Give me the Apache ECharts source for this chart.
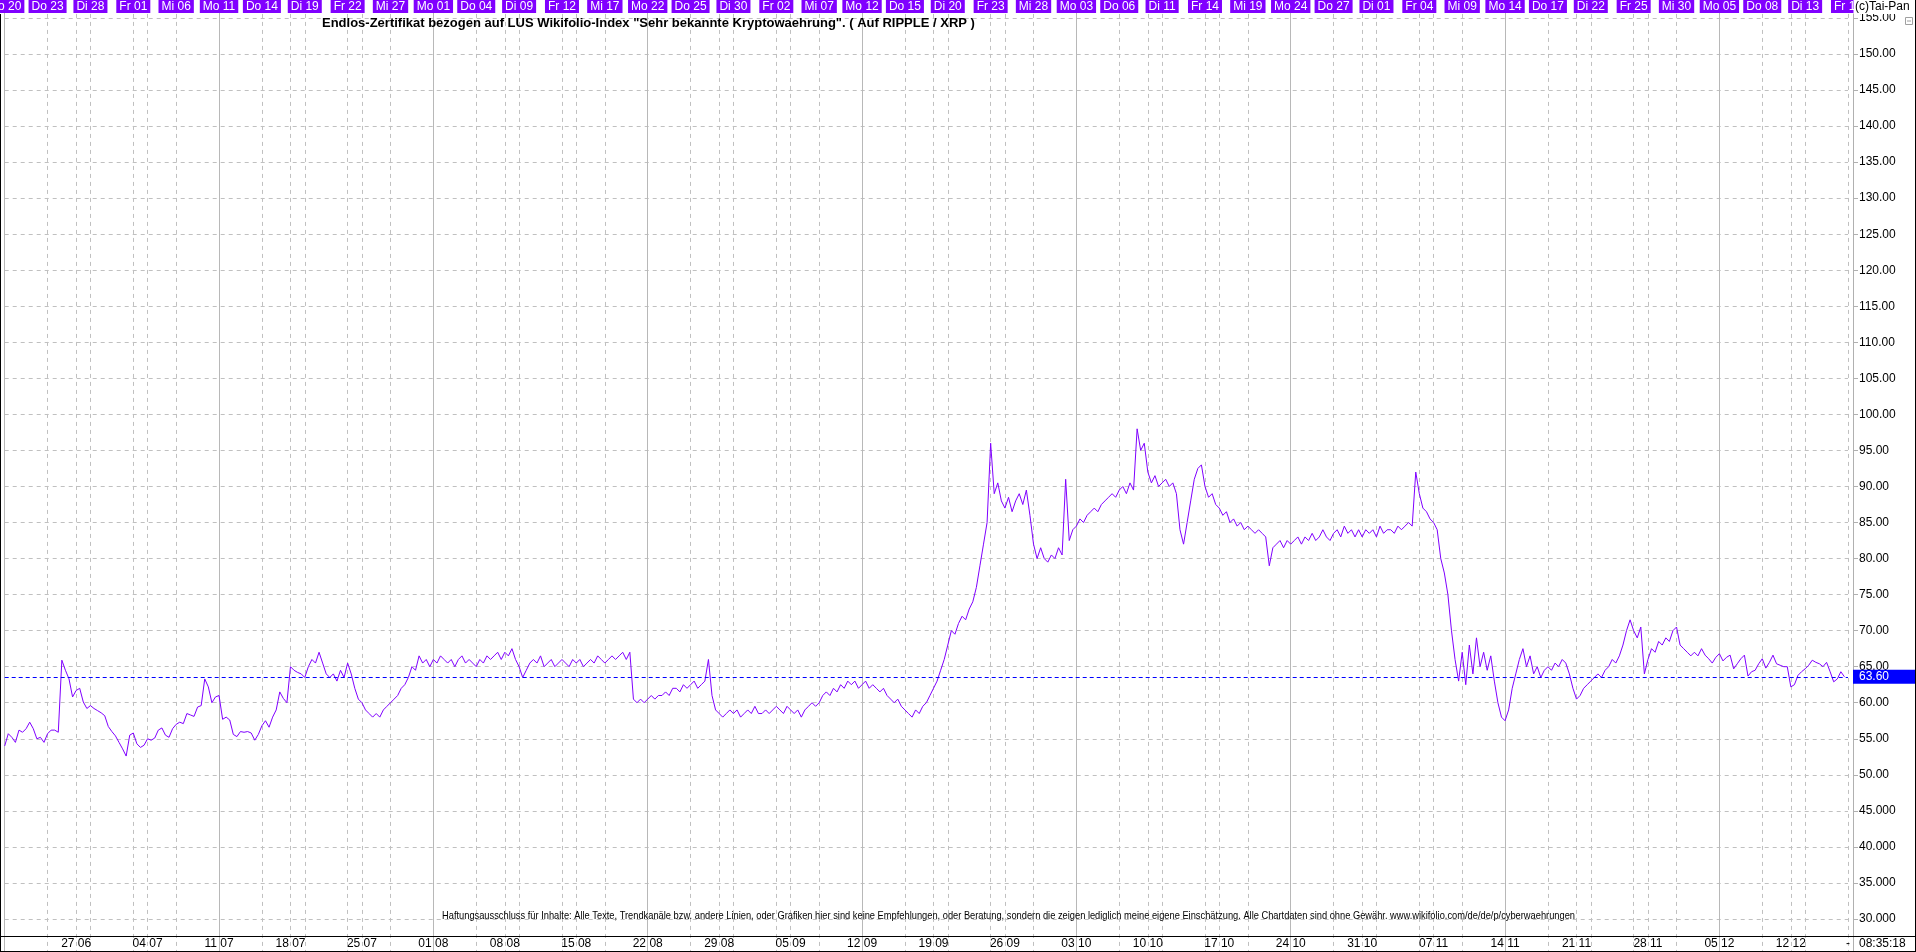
<!DOCTYPE html>
<html><head><meta charset="utf-8">
<script src="https://cdn.jsdelivr.net/npm/echarts@6/dist/echarts.min.js"></script>
<style>html,body{margin:0;padding:0;background:#fff;overflow:hidden}#c{width:1916px;height:952px}</style>
</head><body><div id="c"></div>
<script>
// ---------- data ----------
const titleText = 'Endlos-Zertifikat bezogen auf LUS Wikifolio-Index "Sehr bekannte Kryptowaehrung". ( Auf RIPPLE / XRP )';
const disclaimer = 'Haftungsausschluss für Inhalte: Alle Texte, Trendkanäle bzw. andere Linien, oder Grafiken hier sind keine Empfehlungen, oder Beratung, sondern die zeigen lediglich meine eigene Einschätzung. Alle Chartdaten sind ohne Gewähr. www.wikifolio.com/de/de/p/cyberwaehrungen';
const copyright = '(c)Tai-Pan';
const timeStamp = '08:35:18';
const lastPrice = 63.60;
const year = 2016;
const mondays = ['20.06','27.06','04.07','11.07','18.07','25.07','01.08','08.08','15.08','22.08','29.08','05.09','12.09',
                 '19.09','26.09','03.10','10.10','17.10','24.10','31.10','07.11','14.11','21.11','28.11','05.12','12.12'];
const slotTimes = ['09:00','11:30','14:00','16:30'];
const weekdayNames = ['So','Mo','Di','Mi','Do','Fr','Sa'];
const yTicks = [30,35,40,45,50,55,60,65,70,75,80,85,90,95,100,105,110,115,120,125,130,135,140,145,150,155];

// four readings per trading day, one array per week (Mo..Fr)
const w01 = [54,55.7,55.2,54.5, 56.2,55.9,56.4,57.3, 56.4,55,55.2,54.5, 55.7,56.2,56.2,55.9, 65.9,64.5,63.3,60.8];
const w02 = [61.7,62,60.1,59.2, 59.6,59.2,58.9,58.6, 58.2,56.7,56,55.4, 54.5,53.6,52.6,55.5, 55.8,54.3,53.8,54.1];
const w03 = [55,54.8,55.1,56.2, 56.5,55.5,55.2,56.4, 57,57.3,57.1,58.5, 58.3,58.1,59.4,59.6, 63.3,62.2,60,60.8];
const w04 = [61,57.7,58,57.6, 55.6,55.3,56,55.9, 56,55.8,54.8,55.6, 56.8,57.5,56.6,58, 59,61.5,60.6,60];
const w05 = [65,64.5,64.2,64, 63.5,65,66,65.5, 67,65.5,64,63.5, 64,63,64.5,63.5, 65.5,64,62,60.5];
const w06 = [60,59,58.5,58, 58.5,58,59,59.5, 60,60.5,61,62, 62.5,63.5,65,64.5, 66.5,65.5,66,65];
const w07 = [66,65.5,66.5,66, 65.5,66,65,66, 66.5,65.5,66,65.5, 65,66,65.5,66.5, 66,66.5,67,66];
const w08 = [67,66.5,67.5,66, 65,63.5,64.5,65.5, 66,65.5,66.5,65, 65.5,66,65,65.5, 66,65.5,65,66];
const w09 = [65.5,66,65,65.5, 66,65.5,66.5,66, 65.5,66,66.5,66, 66.5,67,66,67, 60.5,60,60.5,60];
const w10 = [60.5,61,60.5,61, 61,61.5,61,62, 62,61.5,62.5,62, 62.5,63,62,62.5, 63,66,61,59];
const w11 = [58.5,58,58.5,59, 58.5,59,58,58.5, 59,58.5,59.5,58.5, 58.5,59,58.5,59, 59.5,59,58.5,59.5];
const w12 = [59,58.5,59,58, 59,59.5,60,59.5, 60,61,61.5,61, 62,61.5,62.5,62, 63,62.5,63,62];
const w13 = [62.5,63,62,62.5, 62,61.5,62,61, 60.5,60,60.5,59.5, 59,58.5,58,59, 58.5,59.5,60,61];
const w14 = [62,63,64.5,66, 68,70,69.5,71, 72,71.5,73,74, 76,79,82,85, 96,89,90.5,88];
const w15 = [87,88.5,86.5,88, 89,87.5,89.5,86, 82,80,81.5,80, 79.5,80.5,80,81.5, 80.5,91,82.5,84];
const w16 = [84.5,85.5,85,86, 86.5,87,86.5,87.5, 88,88.5,89,88.5, 89.5,90,89,90.5, 89.5,98,95,96];
const w17 = [92,90.5,91.5,90, 90.5,91,90,90.5, 89,84,82,85, 88,91,92.5,93, 90,88.5,89,87.5];
const w18 = [87,86,86.5,85, 85.5,84.5,85,84, 84.5,84,83.5,84, 83.5,83,79,81.5, 82,82.5,81.5,82.5];
const w19 = [82,82.5,83,82, 83,82.5,83.5,82.5, 83,84,83,82.5, 83.5,84,83,84.5, 83.5,84,83,84];
const w20 = [83,84,83.5,84, 83,84.5,83.5,84, 84,83.5,84.5,84, 84.5,85,84.5,92, 89,87,86.5,85.5];
const w21 = [85,84,80,78, 75,70,66,63, 67,62.5,68,64, 69,65,67,64.5, 66.5,63,60,58];
const w22 = [57.5,59,62,64, 66,67.5,65,66.5, 64,65,63.5,64.5, 65,64.5,65.5,65, 66,65.5,64,62];
const w23 = [60.5,61,62,62.5, 63,63.5,64,63.5, 64.5,65,66,65.5, 66.5,68,70,71.5, 70,69,70.5,64];
const w24 = [66,67.5,67,68.5, 68,69,68.5,70, 70.5,68,67.5,67, 66.5,67,66.5,67.5, 66.6,66.1,65.5,66.3];
const w25 = [66.8,65.8,66.3,66.6, 64.7,65.4,66.1,66.6, 63.7,64.3,64.5,65.4, 66.1,64.8,65.6,66.6, 65.4,65.2,65,65];
const w26 = [62.2,62.5,63.8,64.3, 64.7,65.2,65.9,65.6, 65.4,65,65.6,64.3, 62.9,63.3,64.3,63.6, null];

// ---------- build categories ----------
const pad2 = n => (n < 10 ? '0' : '') + n;
const days = [];
mondays.forEach(s => {
  const [d, m] = s.split('.').map(Number);
  for (let k = 0; k < 5; k++) days.push(new Date(year, m - 1, d + k));
});
const lastDay = days.length - 1; // Fr 16.12, only first slot
const cats = [], meta = [];
days.forEach((dt, i) => {
  const n = i === lastDay ? 1 : slotTimes.length;
  for (let s = 0; s < n; s++) {
    cats.push(pad2(dt.getDate()) + '.' + pad2(dt.getMonth() + 1) + '.' + year + ' ' + slotTimes[s]);
    meta.push({day: i, slot: s, dow: dt.getDay(), dd: pad2(dt.getDate()), mm: pad2(dt.getMonth() + 1)});
  }
});
const values = [].concat(w01,w02,w03,w04,w05,w06,w07,w08,w09,w10,w11,w12,w13,w14,w15,w16,w17,w18,w19,w20,w21,w22,w23,w24,w25,w26);

const isThird = i => meta[i].slot === 0 && meta[i].day % 3 === 0;
const isMonday = i => meta[i].slot === 0 && meta[i].dow === 1;
const isSolid = i => meta[i].slot === 0 && meta[i].day % 15 === 0;

// ---------- layout ----------
const FONT = '"Liberation Sans", Arial, sans-serif';
const GRID_L = 4.7, GRID_R = 1848, PX_PER_UNIT = 7.208, Y150 = 54, YMIN = 25, YMAX = 160;
const gridTop = Y150 - (YMAX - 150) * PX_PER_UNIT;
const gridBottomY = Y150 + (150 - YMIN) * PX_PER_UNIT;
const SEP_Y = 936;

const ctx = document.createElement('canvas').getContext('2d');
const discFont = '11px "Liberation Sans", Arial, sans-serif';
ctx.font = discFont;
const discScale = 1133 / ctx.measureText(disclaimer).width;

const chart = echarts.init(document.getElementById('c'), null, {renderer: 'canvas'});
const gridLine = {color: '#c0c0c0', type: [4, 4], width: 1};
chart.setOption({
  animation: false,
  backgroundColor: '#ffffff',
  grid: {left: GRID_L, width: GRID_R - GRID_L, top: gridTop, height: gridBottomY - gridTop,
         containLabel: false, outerBoundsMode: 'none'},
  xAxis: [
    { type: 'category', data: cats, boundaryGap: false, position: 'bottom', offset: SEP_Y - gridBottomY,
      axisLine: {show: false}, axisTick: {show: false},
      axisLabel: {interval: (i) => (isMonday(i) && meta[i].day > 0) || i === cats.length - 1,
        formatter: (v, i) => i === cats.length - 1 ? '-' : (meta[i].day === 0 ? '' : meta[i].dd + ' ' + meta[i].mm),
        margin: 2, fontSize: 12, fontFamily: FONT, color: '#000', hideOverlap: false},
      splitLine: {show: true, interval: (i) => (isThird(i) || isMonday(i)) && !isSolid(i), lineStyle: gridLine} },
    { type: 'category', data: cats, boundaryGap: false, position: 'bottom',
      axisLine: {show: false}, axisTick: {show: false}, axisLabel: {show: false},
      splitLine: {show: true, interval: (i) => isSolid(i), lineStyle: {color: '#b8b8b8', width: 1, type: 'solid'}} },
    { type: 'category', data: cats, boundaryGap: false, position: 'top', offset: -(13 - gridTop),
      axisLine: {show: false}, axisTick: {show: false}, splitLine: {show: false},
      axisLabel: {interval: (i) => isThird(i),
        formatter: (v, i) => weekdayNames[meta[i].dow] + ' ' + meta[i].dd,
        margin: 0, fontSize: 12, lineHeight: 12, fontFamily: FONT, color: '#fff',
        backgroundColor: '#8000ff', padding: [1, 3, 0, 3], hideOverlap: false} }
  ],
  yAxis: {
    type: 'value', position: 'right', min: YMIN, max: YMAX, interval: 5, offset: 5,
    axisLine: {show: true, lineStyle: {color: '#b0b0b0', width: 1}},
    axisTick: {show: true, length: 5, lineStyle: {color: '#b0b0b0'}},
    axisLabel: {margin: 6, fontSize: 12, fontFamily: FONT, color: '#000',
      formatter: v => (yTicks.indexOf(v) < 0 ? '' : (v < 50 ? v.toFixed(3) : v.toFixed(2)))},
    splitLine: {show: true, lineStyle: gridLine}
  },
  series: [{
    type: 'line', data: values, xAxisIndex: 0, symbol: 'none', connectNulls: false,
    lineStyle: {color: '#8000ff', width: 1}, itemStyle: {color: '#8000ff'},
    markLine: {silent: true, symbol: 'none', animation: false,
      data: [{yAxis: lastPrice}],
      lineStyle: {color: '#0000ff', type: [4, 3], width: 1},
      label: {show: true, position: 'end', distance: 5, formatter: lastPrice.toFixed(2),
        color: '#fff', backgroundColor: '#0000ff', padding: [1, 27, 1, 6],
        fontSize: 12, lineHeight: 12, fontFamily: FONT}}
  }],
  graphic: [
    {type: 'text', x: 322, y: 23, z: 10,
      style: {text: titleText, font: 'bold 13px "Liberation Sans", Arial, sans-serif', fill: '#000',
        textVerticalAlign: 'middle', verticalAlign: 'middle'}},
    {type: 'text', x: 442, y: 916, z: 10, scaleX: discScale, originX: 0, originY: 0,
      style: {text: disclaimer, font: discFont, fill: '#000', textVerticalAlign: 'middle', verticalAlign: 'middle'}},
    {type: 'rect', z: 20, shape: {x: 1853.5, y: 0, width: 63, height: 14}, style: {fill: '#fff'}},
    {type: 'text', x: 1855, y: 7, z: 21,
      style: {text: copyright, font: '12px "Liberation Sans", Arial, sans-serif', fill: '#000',
        textVerticalAlign: 'middle', verticalAlign: 'middle'}},
    {type: 'rect', z: 21, shape: {x: 1905.5, y: 17.5, width: 7, height: 7}, style: {fill: '#fff', stroke: '#a0a0a0', lineWidth: 1}},
    {type: 'line', z: 21, shape: {x1: 1907, y1: 21, x2: 1911, y2: 21}, style: {stroke: '#a0a0a0', lineWidth: 1}},
    {type: 'line', z: 21, shape: {x1: 0, y1: SEP_Y + 0.5, x2: 1916, y2: SEP_Y + 0.5}, style: {stroke: '#000', lineWidth: 1}},
    {type: 'rect', z: 19, shape: {x: 1854, y: SEP_Y + 1, width: 62, height: 15}, style: {fill: '#fff'}},
    {type: 'text', x: 1859, y: 944, z: 21,
      style: {text: timeStamp, font: '12px "Liberation Sans", Arial, sans-serif', fill: '#000',
        textVerticalAlign: 'middle', verticalAlign: 'middle'}},
    {type: 'line', z: 21, shape: {x1: 0.5, y1: 14, x2: 0.5, y2: 952}, style: {stroke: '#000', lineWidth: 1}},
    {type: 'line', z: 21, shape: {x1: 0, y1: 951.5, x2: 1916, y2: 951.5}, style: {stroke: '#000', lineWidth: 1}},
    {type: 'line', z: 21, shape: {x1: 1915.5, y1: 0, x2: 1915.5, y2: 952}, style: {stroke: '#000', lineWidth: 1}}
  ]
});
</script></body></html>
